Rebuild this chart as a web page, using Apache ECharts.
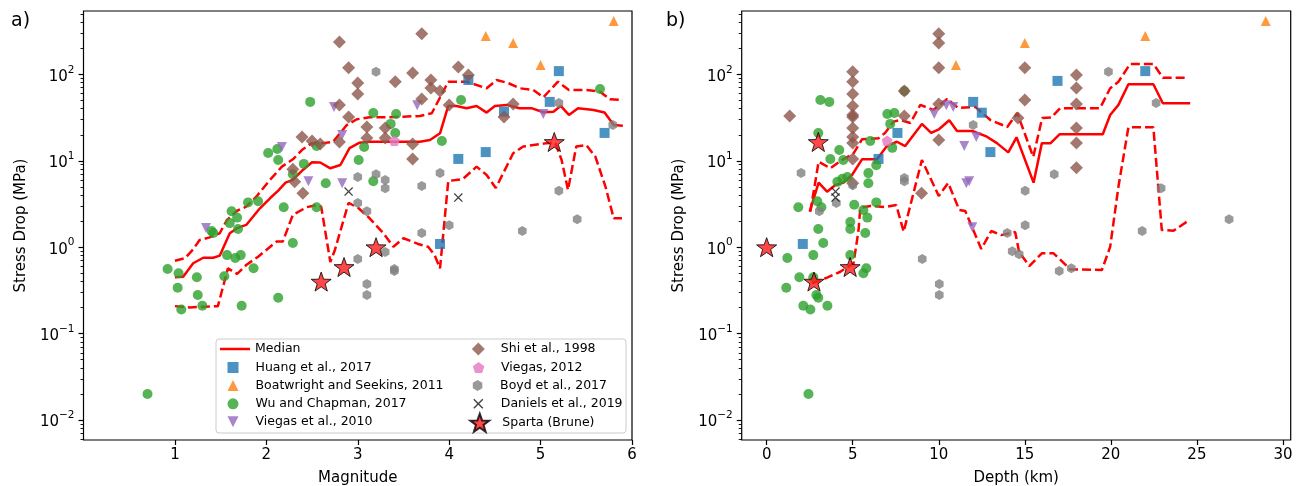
<!DOCTYPE html>
<html>
<head>
<meta charset="utf-8">
<script src="https://cdn.jsdelivr.net/npm/echarts@6/dist/echarts.min.js"></script>
<style>
  html, body { margin: 0; padding: 0; background: #fff; }
  #chart { width: 1303px; height: 486px; }
</style>
</head>
<body>
<div id="chart"></div>
<script>
// ---------- data: [magnitude or depth (km), stress drop (MPa)] ----------
const huangMag = [[4.21,86],[5.20,109],[5.10,48],[4.60,37],[5.70,21],[4.10,10.5],[4.40,12.6],[3.90,1.09]];
const huangDepth = [[12.0,48],[12.5,36],[13.0,12.6],[16.9,84],[22.0,109],[7.6,21],[6.5,10.5],[2.1,1.09]];

const boatMag = [[4.4,278],[4.7,231],[5.0,128],[5.8,415]];
const boatDepth = [[22,278],[15,231],[11,128],[29,415]];

const wuMag = [
  [0.70,0.020],[0.92,0.56],[1.04,0.50],[1.03,0.34],[1.07,0.19],[1.24,0.45],[1.25,0.28],[1.30,0.21],
  [1.54,0.46],[1.57,0.81],[1.66,0.75],[1.72,0.81],[1.73,0.21],[1.86,0.57],[2.13,0.26],[2.29,1.12],
  [1.62,2.6],[1.68,2.2],[1.60,1.9],[1.40,1.54],[1.42,1.46],[1.69,1.62],[1.80,3.3],[1.91,3.4],[2.19,2.9],
  [2.02,12.3],[2.12,13.7],[2.13,10.2],[2.41,9.2],[2.55,2.9],[2.65,5.5],[2.48,48],[2.29,7.0],[2.55,14.8],
  [3.17,35.7],[3.42,34.8],[3.36,26.7],[3.41,21],[3.07,14.4],[3.01,10.2],[3.17,5.8],[3.92,16.9],
  [4.13,50.6],[5.65,67.7]
];
const wuDepth = [
  [2.43,0.020],[1.20,0.75],[1.14,0.34],[1.90,0.45],[2.71,0.81],[2.71,0.45],[2.89,0.28],[3.00,0.26],
  [3.53,0.21],[2.13,0.21],[2.54,0.19],[3.29,1.12],[4.86,0.81],[5.62,0.50],[5.79,0.57],
  [3.12,50.6],[3.64,48],[3.00,21],[3.70,10.5],[4.22,13.3],[4.45,10.2],[4.11,5.7],[4.40,6.2],[4.69,6.5],
  [1.84,2.9],[2.94,3.4],[3.18,2.9],[3.00,1.62],[5.09,3.1],[5.62,2.7],[5.85,2.2],[4.86,1.96],[4.86,1.62],
  [5.73,1.46],[6.37,3.3],[6.02,16.9],[7.01,34.8],[7.42,35.7],[7.18,26.7],[7.30,14.1],[6.37,8.9],
  [5.91,7.2],[5.91,5.5],[8.0,64.3]
];

const viegas10Mag = [[1.34,1.67],[2.17,14.4],[2.46,5.8],[2.74,42],[2.83,19.9],[2.83,5.5],[3.65,44],[5.03,34.8]];
const viegas10Depth = [[9.74,34.8],[10.44,44],[10.84,42],[11.48,14.8],[12.18,18.8],[11.6,5.5],[11.77,5.8],[11.95,1.7]];

const shiMag = [
  [2.80,237],[3.70,294],[2.90,119],[3.00,79.5],[3.00,59.3],[3.41,82],[3.60,104],[3.80,86],[3.80,69.6],
  [3.90,64.3],[3.70,51.9],[4.10,122],[4.21,98],[4.00,44.2],[2.80,44.2],[2.90,32.1],[3.10,24.6],[3.10,18.4],
  [3.30,24],[3.30,18.4],[2.80,16.5],[3.60,15.6],[3.60,10.5],[4.60,32.1],[4.70,45.4],[2.39,18.8],[2.50,16.9],
  [2.59,15.6],[2.29,8.0],[2.31,5.7],[2.40,4.2]
];
const shiDepth = [
  [1.34,33],
  [5.0,107],[5.0,82],[5.0,59.3],[5.0,43.1],[5.0,33.9],[5.0,32.1],[5.0,24],[5.0,18.8],[5.0,16.1],[5.0,10.5],[5.0,5.5],
  [8.0,64.3],[8.0,33],[9.0,4.2],
  [10.0,294],[10.0,231],[10.0,119],[10.0,45.4],[10.0,17.4],
  [15.0,119],[15.0,50.6],[14.6,31.3],
  [18.0,98],[18.0,69.6],[18.0,45.4],[18.0,24],[18.0,16.1],[18.0,8.3]
];

const viegas12Mag = [[3.40,17]];
const viegas12Depth = [[7.0,17]];

const boydMag = [
  [3.20,107],[3.00,6.5],[3.20,7.0],[3.30,6.0],[3.30,4.8],[3.00,3.25],[3.10,2.6],[3.70,5.1],[3.90,7.2],
  [3.70,1.46],[4.00,1.8],[5.20,4.5],[5.40,2.1],[4.80,1.54],[5.20,46.7],[5.79,26],[3.00,0.73],[3.30,0.88],
  [3.40,0.56],[3.40,0.53],[3.10,0.375],[3.10,0.28]
];
const boydDepth = [
  [2.00,7.2],[5.0,5.2],[4.05,3.25],[3.06,2.6],[8.0,6.3],[8.0,5.8],[9.04,0.73],[10.03,0.375],[10.03,0.28],
  [12.0,26],[13.98,1.46],[14.27,0.90],[14.67,0.83],[15.02,4.5],[15.02,1.8],[16.71,7.0],[17.0,0.53],
  [17.7,0.57],[19.86,107],[22.63,46.7],[22.92,4.8],[21.82,1.54],[26.87,2.1]
];

const danielsMag = [[2.90,4.4],[4.10,3.75]];
const danielsDepth = [[4.0,4.4],[4.0,3.75]];

const spartaMag = [[2.6,0.40],[2.85,0.59],[3.2,1.0],[5.15,16.5]];
const spartaDepth = [[2.75,0.40],[4.85,0.59],[0,1.0],[3.0,16.5]];

// running median and spread bounds versus magnitude
const medianMag = [
  [1.00,0.449],[1.09,0.456],[1.20,0.652],[1.31,0.755],[1.42,0.755],[1.49,0.798],[1.60,1.45],[1.68,1.66],
  [1.78,1.81],[1.93,2.82],[2.04,3.68],[2.13,4.51],[2.21,5.58],[2.29,6.0],[2.40,7.83],[2.50,9.62],[2.59,9.55],
  [2.70,8.18],[2.81,8.93],[2.91,14.0],[3.02,16.2],[3.13,16.6],[3.28,16.6],[3.50,16.6],[3.68,16.6],[3.79,17.4],
  [3.90,20.8],[3.99,43.1],[4.08,43.1],[4.19,40.6],[4.30,43.1],[4.41,36.1],[4.50,43.1],[4.63,44.3],[4.77,40.6],
  [4.90,40.6],[5.03,36.4],[5.14,37.0],[5.22,43.1],[5.31,33.9],[5.41,40.6],[5.58,38.7],[5.70,36.1],[5.80,25.9],
  [5.90,25.5]
];
const upperMag = [
  [1.00,0.698],[1.11,0.745],[1.20,0.946],[1.27,1.21],[1.38,1.30],[1.49,1.45],[1.57,2.07],[1.68,2.64],
  [1.78,2.94],[1.89,3.84],[2.04,6.0],[2.17,8.55],[2.29,10.4],[2.40,13.6],[2.50,16.0],[2.62,16.0],[2.73,16.6],
  [2.88,25.9],[2.99,30.2],[3.13,31.8],[3.32,31.8],[3.50,32.4],[3.68,33.0],[3.81,35.5],[3.99,82.2],[4.19,82.2],
  [4.41,69.0],[4.52,86.1],[4.65,78.9],[4.77,69.0],[4.92,65.9],[5.03,54.3],[5.19,82.2],[5.31,65.9],[5.50,65.9],
  [5.65,63.1],[5.76,51.5],[5.90,50.6]
];
const lowerMag = [
  [1.00,0.208],[1.16,0.201],[1.47,0.208],[1.58,0.570],[1.68,0.490],[1.78,0.622],[1.91,0.776],[2.00,0.929],
  [2.11,1.16],[2.18,1.16],[2.29,2.36],[2.44,2.90],[2.55,3.08],[2.60,2.94],[2.70,0.675],[2.75,0.929],[2.90,3.27],
  [3.01,2.82],[3.13,2.16],[3.28,1.45],[3.39,1.01],[3.50,1.27],[3.66,1.09],[3.77,1.01],[3.84,0.813],[3.90,0.570],
  [3.99,5.83],[4.15,6.15],[4.30,8.55],[4.41,6.86],[4.51,4.84],[4.70,12.2],[4.81,14.6],[5.07,16.0],[5.16,16.2],
  [5.23,10.2],[5.30,4.59],[5.39,14.6],[5.50,15.2],[5.60,11.1],[5.71,5.01],[5.80,2.16],[5.89,2.16]
];

// running median and spread bounds versus depth
const medianDepth = [
  [2.50,2.58],[3.02,5.58],[3.51,4.39],[3.99,5.25],[4.47,5.58],[4.96,6.85],[5.54,10.4],[6.41,10.4],[6.99,14.8],
  [7.57,16.6],[8.05,14.8],[9.02,26.7],[9.56,21.0],[10.03,23.3],[10.61,29.4],[11.06,22.1],[11.95,22.1],
  [12.80,19.0],[13.38,16.0],[14.04,12.5],[14.52,18.7],[15.51,5.58],[15.99,16.0],[16.50,16.0],[17.03,20.3],
  [17.64,20.3],[19.53,20.3],[19.96,33.9],[20.44,44.3],[21.02,76.7],[22.47,76.7],[23.02,46.3],[24.61,46.3]
];
const upperDepth = [
  [2.54,2.58],[3.02,9.77],[3.70,8.18],[4.38,10.2],[5.05,12.2],[5.54,17.7],[6.50,18.2],[6.89,21.1],[7.38,28.4],
  [7.76,29.6],[8.35,27.4],[8.93,44.3],[9.68,38.7],[10.49,51.9],[11.13,40.8],[12.12,42.0],[13.0,29.6],
  [13.98,24.6],[14.56,35.7],[15.49,11.1],[16.01,31.3],[16.54,31.7],[17.05,40.6],[19.37,40.6],[19.96,69.0],
  [20.44,82.2],[21.12,132],[22.47,132],[23.02,91.6],[24.51,91.6]
];
const lowerDepth = [
  [2.64,0.382],[3.51,0.444],[4.28,0.520],[5.05,0.652],[5.34,1.58],[5.44,2.84],[6.02,3.0],[6.89,2.92],
  [7.53,3.08],[7.96,1.51],[9.02,10.2],[10.00,3.92],[10.55,5.53],[11.19,2.70],[11.54,2.62],[12.47,0.953],
  [13.05,1.54],[13.63,1.38],[14.44,1.50],[14.67,0.879],[15.26,0.605],[15.99,0.849],[16.67,0.849],
  [17.64,0.555],[19.48,0.545],[19.96,1.01],[20.44,5.01],[21.02,24.4],[22.47,24.4],[22.96,1.58],
  [23.64,1.55],[24.41,1.97]
];

// axis ticks
const majorExponents = [-2, -1, 0, 1, 2];
const magTicks = [1, 2, 3, 4, 5, 6];
const depthTicks = [0, 5, 10, 15, 20, 25, 30];

// ---------- styling ----------
const FONT = 'DejaVu Sans';
const LOG_MIN = -2.231, LOG_MAX = 2.733;

const SQUARE = 'path://M-10,-10L10,-10L10,10L-10,10Z';
const TRI_UP = 'path://M0,-10L10,10L-10,10Z';
const TRI_DOWN = 'path://M0,10L10,-10L-10,-10Z';
const DIAMOND = 'path://M0,-10L10,0L0,10L-10,0Z';
const STAR = 'path://M0,-10L2.35,-3.24L9.51,-3.09L3.8,1.24L5.88,8.09L0,4L-5.88,8.09L-3.8,1.24L-9.51,-3.09L-2.35,-3.24Z';
const HEXAGON = 'path://M0,-10L8.66,-5L8.66,5L0,10L-8.66,5L-8.66,-5Z';
const PENTAGON = 'path://M0,-10L9.51,-3.09L5.88,8.09L-5.88,8.09L-9.51,-3.09Z';
const CROSS = 'path://M-10,-8L-8,-10L0,-2L8,-10L10,-8L2,0L10,8L8,10L0,2L-8,10L-10,8L-2,0Z';

const studies = [
  { name: 'Huang et al., 2017', mag: huangMag, depth: huangDepth, symbol: SQUARE, size: 10, legend: 11, color: '#1f77b4' },
  { name: 'Boatwright and Seekins, 2011', mag: boatMag, depth: boatDepth, symbol: TRI_UP, size: 10, legend: 11, color: '#ff7f0e' },
  { name: 'Wu and Chapman, 2017', mag: wuMag, depth: wuDepth, symbol: 'circle', size: 10, legend: 11, color: '#2ca02c' },
  { name: 'Viegas et al., 2010', mag: viegas10Mag, depth: viegas10Depth, symbol: TRI_DOWN, size: 10, legend: 11, color: '#9467bd' },
  { name: 'Shi et al., 1998', mag: shiMag, depth: shiDepth, symbol: DIAMOND, size: 13, legend: 13, color: '#8c564b' },
  { name: 'Viegas, 2012', mag: viegas12Mag, depth: viegas12Depth, symbol: PENTAGON, size: 11, legend: 11, color: '#e377c2' },
  { name: 'Boyd et al., 2017', mag: boydMag, depth: boydDepth, symbol: HEXAGON, size: 10, legend: 11, color: '#7f7f7f' },
  { name: 'Daniels et al., 2019', mag: danielsMag, depth: danielsDepth, symbol: CROSS, size: 9, legend: 10, color: '#111111' },
  { name: 'Sparta (Brune)', mag: spartaMag, depth: spartaDepth, symbol: STAR, size: 20, legend: 18, color: '#ff1a1a', border: '#000' }
];

const toLog = pts => pts.map(([x, s]) => [x, Math.log10(s)]);

// minor ticks at 2..9 of every decade inside the range
const minorLogs = [];
for (let d = -3; d <= 2; d++) {
  for (let k = 2; k <= 9; k++) {
    const v = Math.log10(k) + d;
    if (v >= LOG_MIN && v <= LOG_MAX) minorLogs.push(v);
  }
}

const grids = [
  { left: 83.5, top: 11, width: 548.5, height: 429 },
  { left: 741.7, top: 11, width: 549, height: 429 }
].map(g => Object.assign(g, {
  show: true, borderColor: '#000', borderWidth: 1.2, backgroundColor: 'transparent',
  containLabel: false, outerBoundsMode: 'none'
}));

const tickStyle = { color: '#000', width: 1.2 };
const labelText = { color: '#000', fontSize: 15, fontFamily: FONT };

function xAxis(gridIndex, min, max, ticks, name) {
  return {
    type: 'value', gridIndex, min, max, position: 'bottom',
    name, nameLocation: 'middle', nameGap: 31,
    nameTextStyle: labelText,
    axisLine: { show: false, onZero: false },
    splitLine: { show: false },
    axisTick: { show: true, length: 5, lineStyle: tickStyle, customValues: ticks },
    axisLabel: Object.assign({ customValues: ticks, margin: 8 }, labelText)
  };
}

function yAxes(gridIndex) {
  return [
    {
      type: 'value', gridIndex, min: LOG_MIN, max: LOG_MAX, position: 'left', offset: 0,
      name: 'Stress Drop (MPa)', nameLocation: 'middle', nameGap: 55,
      nameTextStyle: labelText,
      axisLine: { show: false, onZero: false },
      splitLine: { show: false },
      axisTick: { show: true, length: 5, lineStyle: tickStyle, customValues: majorExponents },
      axisLabel: {
        customValues: majorExponents, margin: 9,
        formatter: v => '{b|10}{s|' + (v < 0 ? '\u2212' : '') + Math.abs(Math.round(v)) + '}',
        rich: {
          b: { fontSize: 15, fontFamily: FONT, color: '#000', lineHeight: 20, verticalAlign: 'bottom' },
          s: { fontSize: 10.5, fontFamily: FONT, color: '#000', lineHeight: 11, verticalAlign: 'top' }
        }
      }
    },
    {
      type: 'value', gridIndex, min: LOG_MIN, max: LOG_MAX, position: 'left', offset: 0,
      axisLine: { show: false, onZero: false },
      splitLine: { show: false },
      axisTick: { show: true, length: 3, lineStyle: { color: '#000', width: 0.9 }, customValues: minorLogs },
      axisLabel: { show: false }
    }
  ];
}

const series = [];
function addLine(name, data, idx, dashed) {
  series.push({
    name, type: 'line', xAxisIndex: idx, yAxisIndex: idx * 2,
    data: toLog(data), symbol: 'none', showSymbol: false, z: 2, silent: true,
    color: '#ff0000',
    lineStyle: { color: '#ff0000', width: 2.5, type: dashed ? [9, 4] : 'solid', cap: 'butt' }
  });
}
addLine('Median', medianMag, 0, false);
addLine('Upper bound', upperMag, 0, true);
addLine('Lower bound', lowerMag, 0, true);
addLine('Median', medianDepth, 1, false);
addLine('Upper bound', upperDepth, 1, true);
addLine('Lower bound', lowerDepth, 1, true);

studies.forEach(s => {
  ['mag', 'depth'].forEach((key, idx) => {
    series.push({
      name: s.name, type: 'scatter', xAxisIndex: idx, yAxisIndex: idx * 2,
      data: toLog(s[key]),
      symbol: s.symbol, symbolSize: s.size, symbolKeepAspect: true,
      z: s.border ? 5 : 3,
      color: s.color,
      itemStyle: s.border
        ? { color: s.color, opacity: 0.8, borderColor: s.border, borderWidth: 1 }
        : { color: s.color, opacity: 0.8 }
    });
  });
});

// legend, two columns inside the magnitude panel
const legendColumns = [
  ['Median', 'Huang et al., 2017', 'Boatwright and Seekins, 2011', 'Wu and Chapman, 2017', 'Viegas et al., 2010'],
  ['Shi et al., 1998', 'Viegas, 2012', 'Boyd et al., 2017', 'Daniels et al., 2019', 'Sparta (Brune)']
];
const rowCenters = [349, 367.5, 385.5, 403.8, 421.7];
const markerCenters = [233, 478.3];
const legendText = { color: '#000', fontSize: 12.5, fontFamily: FONT, lineHeight: 14 };
const legends = [];
legendColumns.forEach((col, c) => {
  col.forEach((name, r) => {
    const study = studies.find(s => s.name === name);
    if (!study) {
      // the median line: a flat red bar as the key
      legends.push({
        data: [{ name, icon: 'rect', itemStyle: { color: '#ff0000' } }],
        left: 220, top: rowCenters[r] - 7,
        itemWidth: 30, itemHeight: 2.5, padding: 0, selectedMode: false, z: 6,
        textStyle: legendText
      });
      return;
    }
    const h = study.legend;
    legends.push({
      data: [name], left: markerCenters[c] - h / 2, top: rowCenters[r] - Math.max(h, 14) / 2,
      itemWidth: 35, itemHeight: h, padding: 0, selectedMode: false, z: 6, symbolKeepAspect: true,
      textStyle: legendText
    });
  });
});

const option = {
  animation: false,
  backgroundColor: '#fff',
  title: [
    { text: 'a)', left: 11, top: 12, padding: 0, textStyle: { fontSize: 19, fontWeight: 'normal', fontFamily: FONT, color: '#000' } },
    { text: 'b)', left: 666, top: 12, padding: 0, textStyle: { fontSize: 19, fontWeight: 'normal', fontFamily: FONT, color: '#000' } }
  ],
  grid: grids,
  xAxis: [
    xAxis(0, 0, 6, magTicks, 'Magnitude'),
    xAxis(1, -1.45, 30.45, depthTicks, 'Depth (km)')
  ],
  yAxis: yAxes(0).concat(yAxes(1)),
  legend: legends,
  graphic: [{
    type: 'rect', z: 5, silent: true,
    shape: { x: 216, y: 339, width: 410, height: 94, r: 3 },
    style: { fill: 'rgba(255,255,255,0.8)', stroke: '#cccccc', lineWidth: 1 }
  }],
  series
};

const chart = echarts.init(document.getElementById('chart'));
chart.setOption(option);
</script>
</body>
</html>
